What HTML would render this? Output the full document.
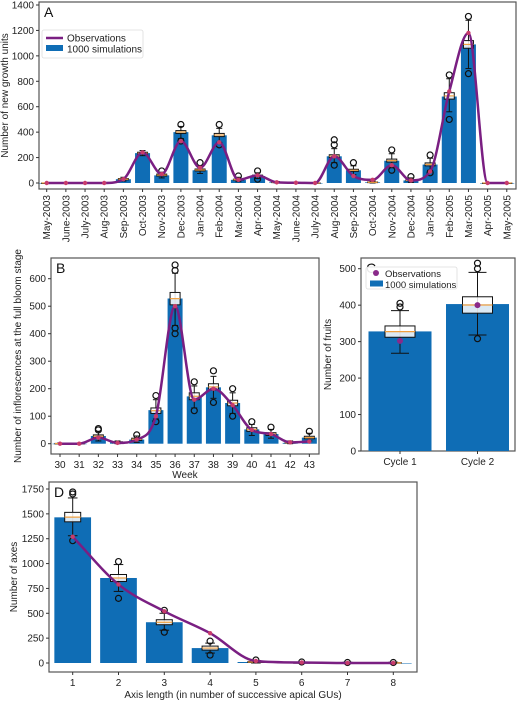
<!DOCTYPE html>
<html><head><meta charset="utf-8"><style>
html,body{margin:0;padding:0;background:#fff;}
svg{display:block;font-family:"Liberation Sans",sans-serif;}
</style></head><body>
<svg id="fig" width="520" height="703" viewBox="0 0 520 703" xmlns="http://www.w3.org/2000/svg"></svg>
<script>
// ---------- Panel A data ----------
const aCats = ["May-2003","June-2003","July-2003","Aug-2003","Sep-2003","Oct-2003","Nov-2003","Dec-2003","Jan-2004","Feb-2004","Mar-2004","Apr-2004","May-2004","June-2004","July-2004","Aug-2004","Sep-2004","Oct-2004","Nov-2004","Dec-2004","Jan-2005","Feb-2005","Mar-2005","Apr-2005","May-2005"];
const aSim = [0,0,0,0,30,235,60,400,100,375,25,55,5,2,0,210,100,5,175,20,145,680,1090,0,0];
const aObs = [0,0,0,0,30,240,70,330,120,320,25,60,5,2,0,210,55,25,140,20,90,720,1180,0,0];
const aQ1 = [0,0,0,0,25,228,55,390,95,365,22,50,3,1,0,200,92,3,165,17,135,660,1060,0,0];
const aQ3 = [0,0,0,0,35,242,70,412,110,390,30,62,7,3,1,222,108,8,188,25,158,710,1120,0,0];
const aLo = [0,0,0,0,15,215,40,350,75,320,10,35,0,0,0,160,65,0,120,5,100,560,900,0,0];
const aHi = [0,0,0,0,45,255,85,445,135,430,45,80,12,5,2,270,135,15,230,40,195,820,1280,0,0];
const aOut = [[],[],[],[],[],[],[95],[460,330],[160],[460,300],[55],[95,30],[],[],[],[300,340,140],[160],[],[260,100],[50],[220,80],[850,500],[1310,860],[],[]];
const aTicks = [0,200,400,600,800,1000,1200,1400];

// ---------- Panel B data ----------
const bCats = ["30","31","32","33","34","35","36","37","38","39","40","41","42","43"];
const bSim = [0,0,28,5,15,122,528,172,205,148,52,35,3,22];
const bObs = [0,0,22,3,15,100,500,160,200,140,50,35,5,8];
const bQ1 = [0,0,22,3,12,110,505,160,195,138,45,30,2,18];
const bQ3 = [1,1,32,7,20,130,550,185,218,158,58,40,5,27];
const bLo = [0,0,10,0,5,90,430,130,165,110,30,20,0,10];
const bHi = [2,2,45,10,28,160,620,210,245,185,70,52,10,38];
const bOut = [[],[],[55,50],[],[32],[175,80],[650,630,400,420],[225,120],[265,150],[200,100],[80],[60],[],[45]];
const bTicks = [0,100,200,300,400,500,600];

// ---------- Panel C data ----------
const cCats = ["Cycle 1","Cycle 2"];
const cSim = [328,403];
const cObs = [302,400];
const cQ1 = [312,378];
const cQ3 = [343,423];
const cLo = [268,318];
const cHi = [385,490];
const cOut = [[395,405],[500,515,308]];
const cTicks = [0,100,200,300,400,500];

// ---------- Panel D data ----------
const dCats = ["1","2","3","4","5","6","7","8"];
const dSim = [1465,855,410,150,10,0,0,0];
const dObs = [1270,790,520,300,20,5,0,0];
const dQ1 = [1420,820,385,130,5,0,0,0];
const dQ3 = [1515,890,435,170,15,3,3,3];
const dLo = [1280,720,330,100,0,0,0,0];
const dHi = [1660,990,500,200,25,8,8,8];
const dOut = [[1720,1700,1230],[1020,650],[530,310],[220,80],[30],[10],[5],[5]];
const dTicks = [0,250,500,750,1000,1250,1500,1750];

const NS="http://www.w3.org/2000/svg";
const svg=document.getElementById('fig');
function mk(tag,attrs,parent){const e=document.createElementNS(NS,tag);for(const k in attrs)e.setAttribute(k,attrs[k]);(parent||svg).appendChild(e);return e;}

// monotone cubic (Fritsch-Carlson) path
function smoothPath(pts){
  const n=pts.length;
  const h=[],s=[];
  for(let i=0;i<n-1;i++){h.push(pts[i+1][0]-pts[i][0]);s.push((pts[i+1][1]-pts[i][1])/h[i]);}
  const m=new Array(n);
  m[0]=s[0];m[n-1]=s[n-2];
  for(let i=1;i<n-1;i++){
    if(s[i-1]*s[i]<=0) m[i]=0;
    else m[i]=(s[i-1]+s[i])/2;
  }
  for(let i=0;i<n-1;i++){
    if(s[i]===0){m[i]=0;m[i+1]=0;continue;}
    const a=m[i]/s[i],b=m[i+1]/s[i],t=a*a+b*b;
    if(t>9){const k=3/Math.sqrt(t);m[i]=k*a*s[i];m[i+1]=k*b*s[i];}
  }
  let d="M"+pts[0][0]+","+pts[0][1];
  for(let i=0;i<n-1;i++){
    const p1=pts[i],p2=pts[i+1];
    d+=` C${p1[0]+h[i]/3},${p1[1]+m[i]*h[i]/3} ${p2[0]-h[i]/3},${p2[1]-m[i+1]*h[i]/3} ${p2[0]},${p2[1]}`;
  }
  return d;
}

function panel(p){
  const g=mk('g',{});
  
  
  const x=i=>p.x0+i*p.dx;
  const y=v=>p.y0-(v-0)*(p.y0-p.yTop)/(p.vTop);
  const fr=mk('rect',{x:p.L,y:p.T,width:p.R-p.L,height:p.B-p.T,fill:'none',stroke:'#555','stroke-width':1.2},g);
  
  
  p.ticks.forEach(t=>{
    mk('line',{x1:p.L-3,x2:p.L,y1:y(t),y2:y(t),stroke:'#333'},g);
    const tx=mk('text',{x:p.L-5,y:y(t)+3.5,'font-size':10,'text-anchor':'end',fill:'#222'},g);
    tx.textContent=t;
    
    
  });
  p.cats.forEach((c,i)=>{
    const b=mk('rect',{x:x(i)-p.bw/2,y:y(p.sim[i]),width:p.bw,height:Math.max(0.5,y(0)-y(p.sim[i])),fill:'#0f6db5'},g);
    
    
    mk('line',{x1:x(i),x2:x(i),y1:p.B,y2:p.B+3,stroke:'#333'},g);
    let t;
    if(p.rot){
      t=mk('text',{x:0,y:0,'font-size':10,'text-anchor':'end',fill:'#222',transform:`translate(${x(i)+3.5},${p.B+6}) rotate(-90)`},g);
    } else {
      t=mk('text',{x:x(i),y:p.B+14,'font-size':10,'text-anchor':'middle',fill:'#222'},g);
    }
    t.textContent=c;
    
    
  });
  const hw=p.boxw/2;
  p.cats.forEach((c,i)=>{
    const bx=mk('g',{},g);
    
    
    mk('line',{x1:x(i),x2:x(i),y1:y(p.lo[i]),y2:y(p.hi[i]),stroke:'#111','stroke-width':1},bx);
    mk('line',{x1:x(i)-hw*0.6,x2:x(i)+hw*0.6,y1:y(p.lo[i]),y2:y(p.lo[i]),stroke:'#111'},bx);
    mk('line',{x1:x(i)-hw*0.6,x2:x(i)+hw*0.6,y1:y(p.hi[i]),y2:y(p.hi[i]),stroke:'#111'},bx);
    mk('rect',{x:x(i)-hw,y:y(p.q3[i]),width:p.boxw,height:Math.max(0.5,y(p.q1[i])-y(p.q3[i])),fill:'#fff','fill-opacity':0.85,stroke:'#111','stroke-width':1},bx);
    const med=(p.q1[i]+p.q3[i])/2;
    mk('line',{x1:x(i)-hw,x2:x(i)+hw,y1:y(med),y2:y(med),stroke:'#f0a040','stroke-width':1.2},bx);
    p.out[i].forEach(o=>mk('circle',{cx:x(i),cy:y(o),r:3,fill:'none',stroke:'#111','stroke-width':1.2},bx));
  });
  if(p.line){
    const pts=p.obs.map((v,i)=>[x(i),y(v)]);
    const l=mk('path',{d:smoothPath(pts),fill:'none',stroke:'#7a1f82','stroke-width':2.5},g);
    
    
  }
  p.obs.forEach((v,i)=>{
    const d=mk('circle',{cx:x(i),cy:y(v),r:p.line?2.2:3,fill:p.line?'#c83c6c':'#8a2a8a'},g);
    
    
  });
  const lab=mk('text',{x:p.L+5,y:p.T+15,'font-size':14,fill:'#111'},g);
  lab.textContent=p.letter;
  
  
  const yt=mk('text',{x:0,y:0,'font-size':10,'text-anchor':'middle',fill:'#222',transform:`translate(${p.ytx},${(p.T+p.B)/2}) rotate(-90)`},g);
  yt.textContent=p.ytitle;
  
  
  if(p.xtitle){
    const xt=mk('text',{x:(p.L+p.R)/2,y:p.xty,'font-size':10,'text-anchor':'middle',fill:'#222'},g);
    xt.textContent=p.xtitle;
    
    
  }
  return g;
}

panel({name:'panel-a',letter:'A',cats:aCats,sim:aSim,obs:aObs,q1:aQ1,q3:aQ3,lo:aLo,hi:aHi,out:aOut,ticks:aTicks,
  L:39,R:516,T:2,B:189,x0:46.7,dx:19.17,bw:15,boxw:10,y0:183,yTop:5,vTop:1400,rot:true,line:true,
  ytitle:'Number of new growth units',ytx:8});
panel({name:'panel-b',letter:'B',cats:bCats,sim:bSim,obs:bObs,q1:bQ1,q3:bQ3,lo:bLo,hi:bHi,out:bOut,ticks:bTicks,
  L:51,R:319,T:258,B:454,x0:60,dx:19.18,bw:15,boxw:10,y0:443.7,yTop:278.7,vTop:600,line:true,
  ytitle:'Number of inflorescences at the full bloom stage',ytx:21,xtitle:'Week',xty:478});
panel({name:'panel-c',letter:'C',cats:cCats,sim:cSim,obs:cObs,q1:cQ1,q3:cQ3,lo:cLo,hi:cHi,out:cOut,ticks:cTicks,
  L:361,R:515,T:258,B:451,x0:400,dx:77.5,bw:63,boxw:30,y0:451,yTop:268.7,vTop:500,line:false,
  ytitle:'Number of fruits',ytx:331,xtitle:null});
panel({name:'panel-d',letter:'D',cats:dCats,sim:dSim,obs:dObs,q1:dQ1,q3:dQ3,lo:dLo,hi:dHi,out:dOut,ticks:dTicks,
  L:49,R:417,T:482,B:672,x0:72.7,dx:45.8,bw:36.7,boxw:16,y0:663,yTop:489,vTop:1750,line:true,
  ytitle:'Number of axes',ytx:17,xtitle:'Axis length (in number of successive apical GUs)',xty:698});

function legend(name,x,y,w,h,lineStyle){
  const g=mk('g',{});
  
  
  mk('rect',{x:x,y:y,width:w,height:h,fill:'#fff','fill-opacity':0.9,stroke:'#ddd','stroke-width':0.8,rx:2},g);
  if(lineStyle) mk('line',{x1:x+4,x2:x+21,y1:y+8,y2:y+8,stroke:'#7a1f82','stroke-width':2.5},g);
  else mk('circle',{cx:x+10,cy:y+6,r:3,fill:'#8a2a8a'},g);
  const t1=mk('text',{x:x+(lineStyle?25:19),y:y+(lineStyle?11.5:10),'font-size':lineStyle?10:9.5,fill:'#222'},g);
  t1.textContent='Observations';
  
  
  const dy=lineStyle?19:17.5;
  mk('rect',{x:x+4,y:y+dy-4,width:lineStyle?17:13,height:6,fill:'#0f6db5'},g);
  const t2=mk('text',{x:x+(lineStyle?25:19),y:y+dy+3.5,'font-size':lineStyle?10:9.5,fill:'#222'},g);
  t2.textContent='1000 simulations';
  
  
}
legend('legend-a',42,30,101,28,true);
legend('legend-c',366,267,91,22,false);
</script>
</body></html>
